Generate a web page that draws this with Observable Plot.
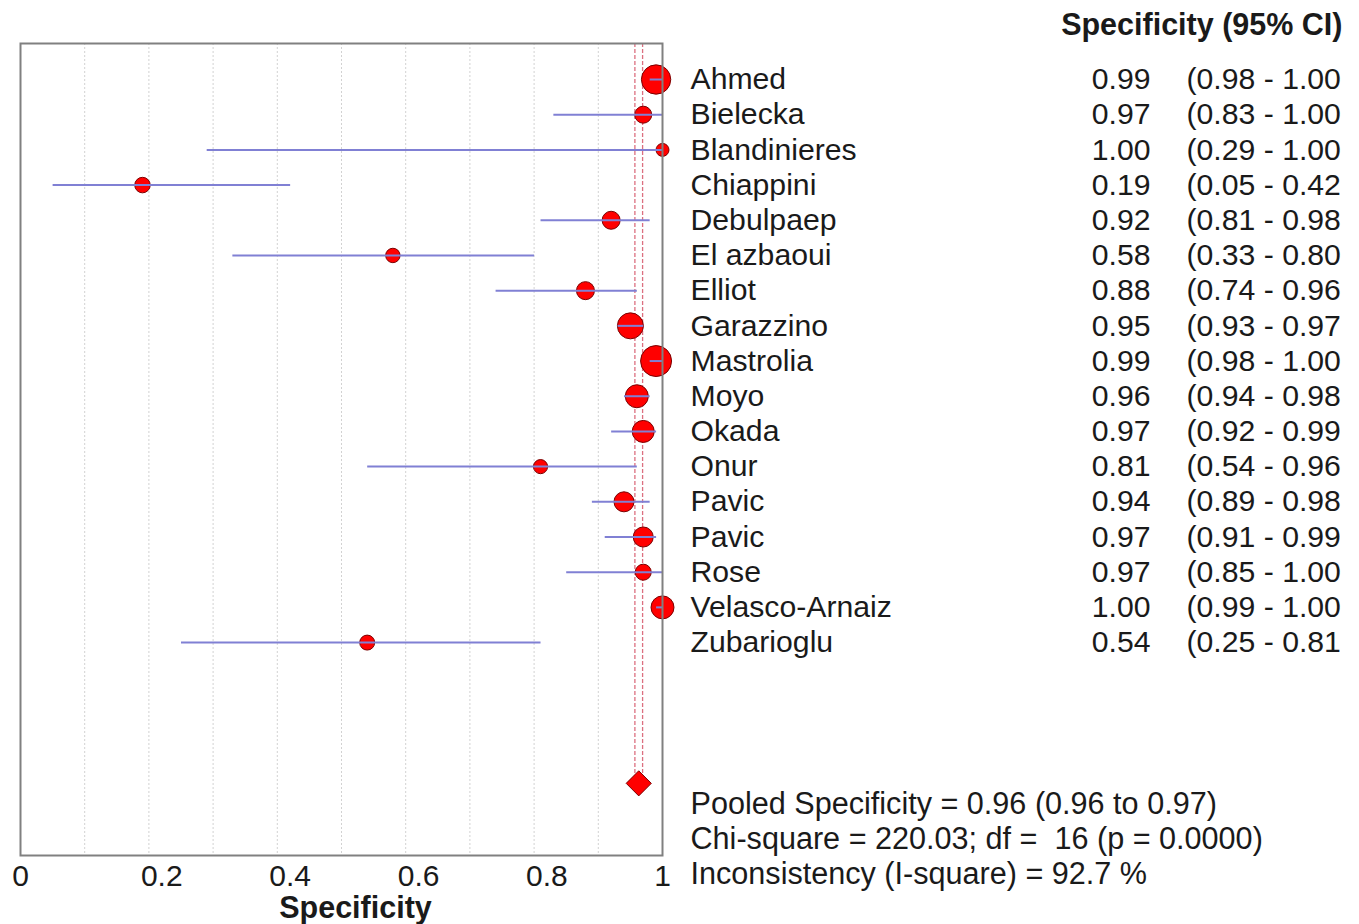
<!DOCTYPE html>
<html>
<head>
<meta charset="utf-8">
<script src="https://cdn.jsdelivr.net/npm/d3@7"></script>
<script src="https://cdn.jsdelivr.net/npm/@observablehq/plot@0.6"></script>
<style>
  html, body { margin: 0; padding: 0; background: #fff; }
  #chart svg { display: block; }
</style>
</head>
<body>
<div id="chart"></div>
<script>
// ---- data ----
const studies = ["Ahmed", "Bielecka", "Blandinieres", "Chiappini", "Debulpaep", "El azbaoui", "Elliot",
  "Garazzino", "Mastrolia", "Moyo", "Okada", "Onur", "Pavic", "Pavic", "Rose", "Velasco-Arnaiz", "Zubarioglu"];
const specificity = [0.99, 0.97, 1.00, 0.19, 0.92, 0.58, 0.88, 0.95, 0.99, 0.96, 0.97, 0.81, 0.94, 0.97, 0.97, 1.00, 0.54];
const ciLower     = [0.98, 0.83, 0.29, 0.05, 0.81, 0.33, 0.74, 0.93, 0.98, 0.94, 0.92, 0.54, 0.89, 0.91, 0.85, 0.99, 0.25];
const ciUpper     = [1.00, 1.00, 1.00, 0.42, 0.98, 0.80, 0.96, 0.97, 1.00, 0.98, 0.99, 0.96, 0.98, 0.99, 1.00, 1.00, 0.81];
// relative study weights (marker area)
const weights     = [215, 72, 42, 60, 81, 52, 81, 169, 240, 132, 121, 50, 100, 100, 64, 132, 56];

const pooledEstimate = 0.963;
const pooledLower = 0.957;
const pooledUpper = 0.969;

const statsLines = [
  "Pooled Specificity = 0.96 (0.96 to 0.97)",
  "Chi-square = 220.03; df =\u00a0 16 (p = 0.0000)",
  "Inconsistency (I-square) = 92.7 %"
];
const headerText = "Specificity (95% CI)";
const axisTitle = "Specificity";
const xTicksEnds = [0, 1];
const xTicksInner = [0.2, 0.4, 0.6, 0.8];
const gridTicks = [0.1, 0.2, 0.3, 0.4, 0.5, 0.6, 0.7, 0.8, 0.9];

// ---- tables built from the arrays ----
const rows = studies.map((s, i) => ({
  study: s, row: i, est: specificity[i], lo: ciLower[i], hi: ciUpper[i], w: weights[i]
}));
const pooledRow = studies.length + 3;
const stats = statsLines.map((t, i) => ({ t, row: pooledRow + 0.5 + i }));
const yDomain = [-1.023, 22.05];

const font = "'Liberation Sans', Arial, Helvetica, sans-serif";
const textColor = "#1a1a1a";

const plot = Plot.plot({
  width: 1359,
  height: 924,
  marginLeft: 20,
  marginRight: 697,
  marginTop: 43,
  marginBottom: 69,
  style: { fontFamily: font, background: "#fff", color: textColor, overflow: "visible" },
  x: { domain: [0, 1] },
  y: { domain: yDomain, reverse: true, axis: null },
  r: { type: "sqrt", domain: [0, 240], range: [0, 15.5] },
  marks: [
    Plot.ruleX(gridTicks, { stroke: "#d2d2d2", strokeDasharray: "2,2", strokeWidth: 1 }),
    Plot.ruleX([pooledLower, pooledUpper], {
      x: d => d, y1: () => yDomain[0], y2: () => pooledRow,
      stroke: "#dc7080", strokeDasharray: "4,2", strokeWidth: 1.3
    }),
    Plot.dot(rows, { x: "est", y: "row", r: "w", fill: "#ff0000", stroke: "#7a0000", strokeWidth: 1 }),
    Plot.link(rows, { x1: "lo", x2: "hi", y1: "row", y2: "row", stroke: "#8080d4", strokeWidth: 2 }),
    Plot.dot([pooledEstimate], {
      x: d => d, y: () => pooledRow, symbol: "diamond2", r: 11.3,
      fill: "#ff0000", stroke: "#7a0000", strokeWidth: 1
    }),
    Plot.frame({ stroke: "#808080", strokeWidth: 2 }),
    Plot.axisX(xTicksEnds, {
      tickSize: 0, tickPadding: 9, fontSize: 30, tickFormat: d => String(d), label: null, fill: textColor
    }),
    Plot.axisX(xTicksInner, {
      tickSize: 0, tickPadding: 9, fontSize: 30, tickFormat: d => String(d), label: null, fill: textColor,
      textAnchor: "start", dx: -8
    }),
    Plot.text([axisTitle], {
      frameAnchor: "bottom", lineAnchor: "middle", dx: 14, dy: 53, fontWeight: "bold", fontSize: 30.5, fill: textColor
    }),
    Plot.text([headerText], {
      x: () => 1, frameAnchor: "top", lineAnchor: "middle", dx: 680, dy: -18, textAnchor: "end",
      fontWeight: "bold", fontSize: 30.5, fill: textColor
    }),
    Plot.text(rows, { x: () => 1, y: "row", text: "study", dx: 28, textAnchor: "start", fontSize: 30.2, fill: textColor }),
    Plot.text(rows, { x: () => 1, y: "row", text: d => d.est.toFixed(2), dx: 488, textAnchor: "end", fontSize: 30.2, fill: textColor }),
    Plot.text(rows, {
      x: () => 1, y: "row", text: d => `(${d.lo.toFixed(2)} - ${d.hi.toFixed(2)}`,
      dx: 524, textAnchor: "start", fontSize: 30.2, fill: textColor
    }),
    Plot.text(stats, { x: () => 1, y: "row", text: "t", dx: 28, dy: 3, textAnchor: "start", fontSize: 30.6, fill: textColor })
  ]
});

document.getElementById("chart").appendChild(plot);
</script>
</body>
</html>
